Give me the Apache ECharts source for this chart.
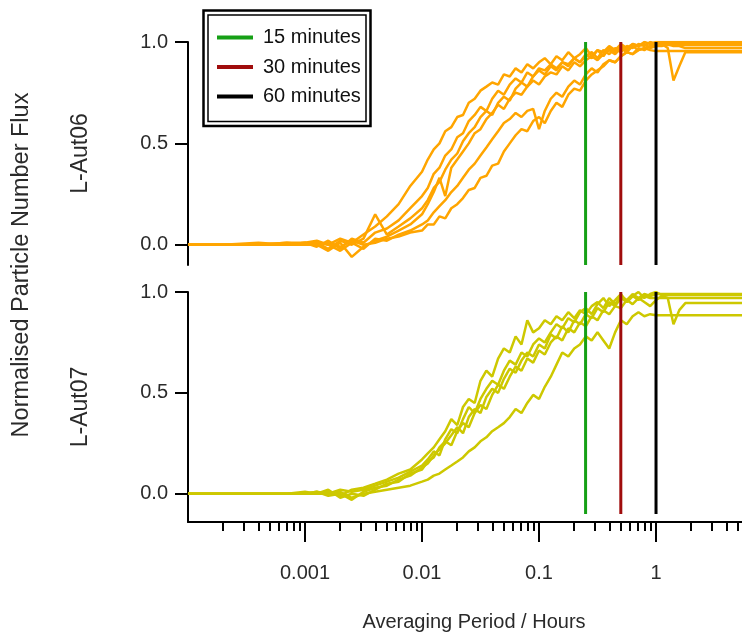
<!DOCTYPE html>
<html>
<head>
<meta charset="utf-8">
<script src="https://cdn.jsdelivr.net/npm/echarts@6/dist/echarts.min.js"></script>
<style>
html,body{margin:0;padding:0;background:#fff;}
#chart{width:742px;height:634px;}
</style>
</head>
<body>
<div id="chart"></div>
<script>
// ---- data ----
const X_HOURS = [
  0.0001, 0.0002, 0.0004, 0.0007, 0.001, 0.00126, 0.00158, 0.002, 0.00251, 0.00316,
  0.00398, 0.00501, 0.00631, 0.00794, 0.01, 0.0112, 0.0126, 0.0141, 0.0158, 0.0178,
  0.02, 0.0224, 0.0251, 0.0282, 0.0316, 0.0355, 0.0398, 0.0447, 0.0501, 0.0562,
  0.0631, 0.0708, 0.0794, 0.0891, 0.1, 0.112, 0.126, 0.141, 0.158, 0.178,
  0.2, 0.224, 0.251, 0.282, 0.316, 0.355, 0.398, 0.447, 0.501, 0.562,
  0.631, 0.708, 0.794, 0.891, 1, 1.12, 1.26, 1.41, 1.58, 1.78,
  2, 2.5, 3.2, 4, 5.5
];

// L-Aut06 runs (top panel)
const AUT06_RUN1 = [
  0, 0, 0, 0.01, 0.01, 0.02, 0, 0.03, 0.01, 0.05,
  0.09, 0.14, 0.2, 0.29, 0.36, 0.42, 0.47, 0.5, 0.56, 0.58,
  0.63, 0.64, 0.7, 0.72, 0.76, 0.78, 0.8, 0.79, 0.84, 0.83,
  0.87, 0.85, 0.89, 0.87, 0.9, 0.92, 0.89, 0.93, 0.91, 0.95,
  0.92, 0.94, 0.97, 0.93, 0.96, 0.95, 0.98, 0.96, 0.99, 0.97,
  0.99, 0.98, 1, 0.99, 1, 1, 1, 1, 1, 1,
  1, 1, 1, 1, 1
];
const AUT06_RUN2 = [
  0, 0, 0.01, 0, 0.01, -0.01, 0.02, -0.02, 0.03, 0.01,
  0.06, 0.08, 0.12, 0.18, 0.24, 0.28, 0.35, 0.38, 0.44, 0.47,
  0.53, 0.55, 0.61, 0.64, 0.68, 0.66, 0.72, 0.76, 0.74, 0.79,
  0.82, 0.8, 0.85, 0.83, 0.87, 0.86, 0.89, 0.87, 0.9, 0.88,
  0.92, 0.9, 0.93, 0.95, 0.92, 0.96, 0.94, 0.97, 0.95, 0.98,
  0.97, 0.99, 0.98, 1, 0.99, 0.99, 0.97, 0.81, 0.88, 0.95,
  0.95, 0.95, 0.95, 0.95, 0.95
];
const AUT06_RUN3 = [
  0, 0, 0, 0.01, 0, 0.01, -0.02, 0.02, 0, 0.03,
  0.15, 0.05, 0.09, 0.13, 0.18, 0.22, 0.28, 0.31, 0.37, 0.42,
  0.45, 0.51, 0.55, 0.58, 0.63, 0.66, 0.64, 0.7, 0.73, 0.71,
  0.77, 0.8, 0.78, 0.83, 0.86, 0.84, 0.88, 0.86, 0.9, 0.89,
  0.92, 0.9, 0.94, 0.92, 0.96, 0.93, 0.97, 0.95, 0.98, 0.96,
  0.99, 0.98, 0.99, 0.97, 0.98, 0.98, 0.99, 0.98, 0.98, 0.97,
  0.97, 0.97, 0.97, 0.97, 0.97
];
const AUT06_RUN4 = [
  0, 0, 0, 0, 0.01, 0, -0.03, 0.01, -0.06, -0.01,
  0.02, 0.04, 0.07, 0.1, 0.15, 0.2, 0.26, 0.33, 0.24, 0.38,
  0.42, 0.46, 0.5, 0.55, 0.57, 0.62, 0.65, 0.69, 0.67, 0.72,
  0.75, 0.74, 0.78, 0.81, 0.79, 0.83, 0.85, 0.84, 0.88, 0.86,
  0.9, 0.88, 0.91, 0.93, 0.91, 0.94, 0.96, 0.94, 0.97, 0.95,
  0.98, 0.96, 0.97, 0.96, 0.955, 0.955, 0.955, 0.955, 0.955, 0.955,
  0.955, 0.955, 0.955, 0.955, 0.955
];
const AUT06_RUN5 = [
  0, 0, 0, 0, 0, 0.01, 0, -0.03, 0.01, -0.02,
  0.03, 0.02, 0.05, 0.07, 0.1, 0.12, 0.16, 0.19, 0.22, 0.26,
  0.29, 0.33, 0.37, 0.4, 0.44, 0.48, 0.52, 0.56, 0.6, 0.62,
  0.65, 0.63, 0.66, 0.67, 0.57, 0.66, 0.72, 0.75, 0.73, 0.78,
  0.81, 0.79, 0.84, 0.87, 0.85, 0.89, 0.91, 0.9, 0.93, 0.95,
  0.94, 0.97, 0.96, 0.98, 0.99, 0.99, 0.99, 0.99, 0.99, 0.99,
  0.99, 0.99, 0.99, 0.99, 0.99
];
const AUT06_RUN6 = [
  0, 0, 0, 0, 0, 0, 0.01, -0.01, 0.02, 0,
  0.01, 0.03, 0.04, 0.06, 0.07, 0.1, 0.1, 0.14, 0.13, 0.18,
  0.2, 0.23, 0.27, 0.28, 0.33, 0.34, 0.39, 0.4, 0.46, 0.5,
  0.54, 0.57, 0.56, 0.61, 0.63, 0.6, 0.66, 0.7, 0.68, 0.74,
  0.77, 0.76, 0.81, 0.84, 0.86, 0.88, 0.91, 0.9, 0.93, 0.95,
  0.94, 0.96, 0.97, 0.98, 0.985, 0.985, 0.985, 0.985, 0.985, 0.985,
  0.985, 0.985, 0.985, 0.985, 0.985
];

// L-Aut07 runs (bottom panel)
const AUT07_RUN1 = [
  0, 0, 0, 0, 0, 0, 0.01, -0.01, 0.02, 0.03,
  0.05, 0.07, 0.1, 0.12, 0.17, 0.2, 0.23, 0.27, 0.31, 0.37,
  0.34, 0.43, 0.47, 0.45, 0.56, 0.61, 0.58, 0.67, 0.72, 0.7,
  0.78, 0.74, 0.86, 0.8, 0.82, 0.86, 0.84, 0.88, 0.86, 0.9,
  0.87, 0.91, 0.89, 0.93, 0.95, 0.92, 0.97, 0.94, 0.98, 0.96,
  0.99, 0.97, 0.99, 0.98, 0.99, 0.99, 0.99, 0.99, 0.99, 0.99,
  0.99, 0.99, 0.99, 0.99, 0.99
];
const AUT07_RUN2 = [
  0, 0, 0, 0, 0, 0.01, -0.01, 0, -0.03, 0.01,
  0.03, 0.04, 0.07, 0.09, 0.13, 0.15, 0.19, 0.22, 0.25, 0.29,
  0.33, 0.3, 0.38, 0.42, 0.4, 0.48, 0.52, 0.5, 0.57, 0.62,
  0.6, 0.66, 0.7, 0.68, 0.74, 0.72, 0.79, 0.77, 0.83, 0.8,
  0.86, 0.84, 0.89, 0.87, 0.92, 0.9, 0.95, 0.93, 0.97, 0.95,
  0.98, 0.96, 0.98, 0.97, 0.97, 0.97, 0.97, 0.97, 0.97, 0.97,
  0.97, 0.97, 0.97, 0.97, 0.97
];
const AUT07_RUN3 = [
  0, 0, 0, 0, 0.01, 0, 0.02, -0.02, 0, -0.01,
  0.02, 0.05, 0.06, 0.1, 0.12, 0.16, 0.18, 0.23, 0.26, 0.24,
  0.31, 0.35, 0.33, 0.4, 0.44, 0.42, 0.49, 0.54, 0.52, 0.58,
  0.63, 0.61, 0.67, 0.65, 0.71, 0.69, 0.75, 0.78, 0.76, 0.82,
  0.8, 0.85, 0.83, 0.88, 0.86, 0.91, 0.89, 0.93, 0.92, 0.96,
  0.94, 0.97, 0.95, 0.93, 0.96, 0.98, 0.97, 0.84, 0.91, 0.945,
  0.945, 0.945, 0.945, 0.945, 0.945
];
const AUT07_RUN4 = [
  0, 0, 0, 0, 0, 0, 0, 0.01, -0.02, 0,
  0.01, 0.02, 0.03, 0.04, 0.06, 0.07, 0.09, 0.1, 0.12, 0.14,
  0.16, 0.18, 0.21, 0.23, 0.26, 0.28, 0.31, 0.33, 0.35, 0.38,
  0.42, 0.4, 0.45, 0.49, 0.47, 0.53, 0.58, 0.64, 0.7, 0.68,
  0.72, 0.74, 0.78, 0.76, 0.8, 0.76, 0.72, 0.8, 0.86, 0.84,
  0.88, 0.9, 0.88, 0.89, 0.885, 0.885, 0.885, 0.885, 0.885, 0.885,
  0.885, 0.885, 0.885, 0.885, 0.885
];
const AUT07_RUN5 = [
  0, 0, 0, 0, 0, 0.01, 0, 0.02, 0.01, 0.02,
  0.04, 0.06, 0.08, 0.11, 0.14, 0.17, 0.21, 0.19, 0.27, 0.32,
  0.3, 0.37, 0.43, 0.4, 0.47, 0.52, 0.56, 0.54, 0.61, 0.66,
  0.64, 0.7, 0.68, 0.74, 0.77, 0.75, 0.8, 0.84, 0.82, 0.87,
  0.85, 0.9, 0.92, 0.89, 0.94, 0.97, 0.93, 0.96, 0.99, 0.95,
  0.98, 1, 0.97, 0.99, 1, 0.985, 0.985, 0.985, 0.985, 0.985,
  0.985, 0.985, 0.985, 0.985, 0.985
];

const TOP_RUNS = [AUT06_RUN1, AUT06_RUN2, AUT06_RUN3, AUT06_RUN4, AUT06_RUN5, AUT06_RUN6];
const BOTTOM_RUNS = [AUT07_RUN1, AUT07_RUN2, AUT07_RUN3, AUT07_RUN4, AUT07_RUN5];

const PERIOD_NAMES = ['15 minutes', '30 minutes', '60 minutes'];
const PERIOD_HOURS = [0.25, 0.5, 1];
const PERIOD_COLORS = ['#16a016', '#a00d0d', '#000000'];

const X_TICKS = [0.001, 0.01, 0.1, 1];
const Y_TICKS = [0, 0.5, 1];
const PANEL_NAMES = ['L-Aut06', 'L-Aut07'];

// ---- layout / style ----
const X_MIN = 0.0001, X_MAX = 5.43;
const FONT = "'Liberation Sans', Arial, sans-serif";
const TXT = '#2a2a2a';
const ORANGE = '#ffa500';
const YELLOW = '#cdc800';

const minorTicks = [];
for (let e = -4; e <= 0; e++) {
  for (let k = 2; k <= 9; k++) {
    const v = k * Math.pow(10, e);
    if (v < X_MAX) minorTicks.push(+v.toPrecision(3));
  }
}

function lineSeries(run, xi, yi, color) {
  return {
    type: 'line', xAxisIndex: xi, yAxisIndex: yi,
    data: X_HOURS.map((x, i) => [x, run[i]]),
    showSymbol: false, silent: true, z: 2,
    lineStyle: { color: color, width: 2.5 },
    itemStyle: { color: color }
  };
}

const series = [];
TOP_RUNS.forEach(r => series.push(lineSeries(r, 0, 0, ORANGE)));
BOTTOM_RUNS.forEach(r => series.push(lineSeries(r, 1, 1, YELLOW)));
PERIOD_NAMES.forEach((name, k) => {
  [[0, 0], [1, 1]].forEach(([xi, yi]) => {
    series.push({
      name: name, type: 'line', xAxisIndex: xi, yAxisIndex: yi,
      data: [[PERIOD_HOURS[k], -0.1], [PERIOD_HOURS[k], 1]],
      showSymbol: false, silent: true, z: 3,
      color: PERIOD_COLORS[k],
      lineStyle: { color: PERIOD_COLORS[k], width: 3 },
      itemStyle: { color: PERIOD_COLORS[k] }
    });
  });
});

function yAxis(gi, min, name) {
  return {
    type: 'value', gridIndex: gi, min: min, max: 1,
    axisLine: { show: true, onZero: false, lineStyle: { color: '#000', width: 2 } },
    axisTick: { show: true, customValues: Y_TICKS, length: 13, lineStyle: { color: '#000', width: 2 } },
    axisLabel: { customValues: Y_TICKS, formatter: v => Number(v).toFixed(1), margin: 20,
                 fontSize: 20, color: TXT, fontFamily: FONT },
    splitLine: { show: false },
    name: name, nameLocation: 'middle', nameGap: 96,
    nameTextStyle: { fontSize: 23, color: TXT, fontFamily: FONT }
  };
}

const option = {
  animation: false,
  backgroundColor: '#ffffff',
  grid: [
    { left: 188, top: 42, right: 0, height: 223 },
    { left: 188, top: 292, right: 0, height: 230 }
  ],
  xAxis: [
    { type: 'log', gridIndex: 0, min: X_MIN, max: X_MAX, show: false },
    { type: 'log', gridIndex: 1, min: X_MIN, max: X_MAX, position: 'bottom',
      axisLine: { show: true, onZero: false, lineStyle: { color: '#000', width: 2 } },
      axisTick: { show: true, customValues: X_TICKS, length: 20, lineStyle: { color: '#000', width: 2 } },
      axisLabel: { customValues: X_TICKS, formatter: v => String(v), margin: 41,
                   fontSize: 20, color: TXT, fontFamily: FONT },
      splitLine: { show: false },
      name: 'Averaging Period / Hours', nameLocation: 'middle', nameGap: 90,
      nameTextStyle: { fontSize: 20, color: TXT, fontFamily: FONT, padding: [0, 0, 0, 18] }
    },
    { type: 'log', gridIndex: 1, min: X_MIN, max: X_MAX, position: 'bottom', offset: 0,
      axisLine: { show: false, onZero: false },
      axisTick: { show: true, customValues: minorTicks, length: 9, lineStyle: { color: '#000', width: 2 } },
      axisLabel: { show: false }, splitLine: { show: false }
    }
  ],
  yAxis: [ yAxis(0, -0.1, PANEL_NAMES[0]), yAxis(1, -0.14, PANEL_NAMES[1]) ],
  legend: {
    data: PERIOD_NAMES, orient: 'vertical', left: 203, top: 9,
    padding: [17, 10, 17, 14], itemWidth: 36, itemHeight: 4, itemGap: 6.5, icon: 'rect',
    textStyle: { fontSize: 20, color: '#111', fontFamily: FONT, lineHeight: 23, padding: [0, 0, 0, 5] },
    selectedMode: false
  },
  graphic: [
    { type: 'rect', shape: { x: 203.5, y: 10.5, width: 167, height: 115.5 },
      style: { fill: 'none', stroke: '#000', lineWidth: 2.5 }, z: 10 },
    { type: 'rect', shape: { x: 208, y: 15, width: 158, height: 106.5 },
      style: { fill: 'none', stroke: '#000', lineWidth: 1.5 }, z: 10 },
    { type: 'text', x: 22, y: 265, rotation: Math.PI / 2,
      style: { text: 'Normalised Particle Number Flux', align: 'center', verticalAlign: 'middle',
               fontSize: 23.5, fill: TXT, fontFamily: FONT } }
  ],
  series: series
};

const chart = echarts.init(document.getElementById('chart'), null, { renderer: 'canvas' });
chart.setOption(option);
</script>
</body>
</html>
